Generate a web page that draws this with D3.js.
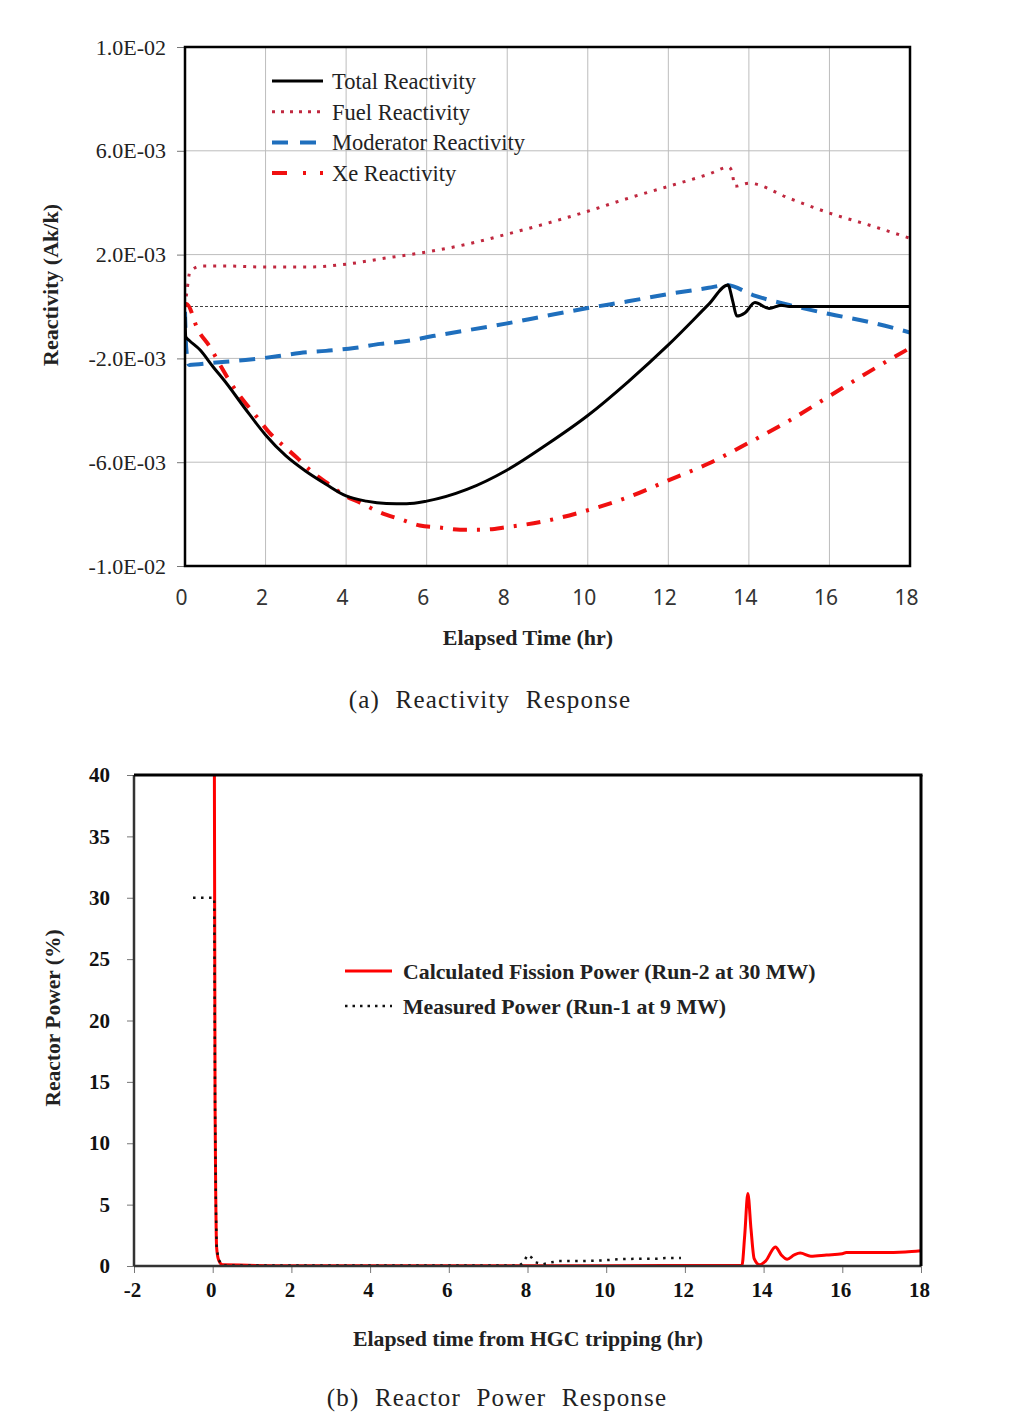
<!DOCTYPE html>
<html>
<head>
<meta charset="utf-8">
<script src="https://cdn.jsdelivr.net/npm/d3@7"></script>
<style>
  html, body { margin: 0; padding: 0; background: #fff; }
  svg { display: block; }
</style>
</head>
<body>
<svg id="chart" width="1013" height="1420"></svg>
<script>
// ---------- (a) Reactivity response data ----------
const reactXTicks = [0, 2, 4, 6, 8, 10, 12, 14, 16, 18];
const reactYTicks = [-0.01, -0.006, -0.002, 0.002, 0.006, 0.01];
const reactYTickLabels = ["-1.0E-02", "-6.0E-03", "-2.0E-03", "2.0E-03", "6.0E-03", "1.0E-02"];

const totalT = [0, 0.02, 0.1, 0.37, 0.7, 1, 1.5, 2, 2.5, 3, 3.5, 4, 4.5, 5, 5.5, 6, 7, 8, 9, 10, 11, 12, 13, 13.48, 13.6, 13.7, 13.9, 14.15, 14.5, 14.8, 15, 18];
const totalV = [-0.0004, -0.00117, -0.0013, -0.00167, -0.00233, -0.0029, -0.00395, -0.00495, -0.00575, -0.00635, -0.00685, -0.0073, -0.0075, -0.00759, -0.0076, -0.0075, -0.00705, -0.0063, -0.0053, -0.0042, -0.0029, -0.00148, 0.00008, 0.00083, 0.0002, -0.00037, -0.00025, 0.00015, -0.00008, 0.00005, 0, 0];

const fuelT = [0, 0.05, 0.12, 0.4, 1, 2, 3, 4, 5, 6, 7, 8, 9, 10, 11, 12, 13, 13.5, 13.58, 13.65, 14, 15, 16, 17, 18];
const fuelV = [0, 0.0006, 0.00133, 0.00156, 0.00156, 0.00152, 0.00152, 0.00163, 0.00187, 0.0021, 0.0024, 0.00279, 0.00321, 0.00367, 0.00417, 0.00463, 0.0051, 0.00537, 0.0052, 0.00463, 0.00475, 0.00417, 0.0036, 0.00313, 0.00263];

const modT = [0, 0.03, 0.1, 0.7, 1.5, 2.2, 2.85, 3.5, 4.2, 4.85, 5.5, 6.2, 6.75, 7.5, 8, 9, 10, 11, 12, 13, 13.45, 14.1, 15, 16, 17, 18];
const modV = [-0.0002, -0.0016, -0.00225, -0.00217, -0.00206, -0.00194, -0.00179, -0.00171, -0.0016, -0.00144, -0.00133, -0.00113, -0.00098, -0.00079, -0.00065, -0.00035, -0.00006, 0.0002, 0.00048, 0.00072, 0.00083, 0.00044, 0.00006, -0.00029, -0.0006, -0.001];

const xeT = [0, 0.04, 0.32, 0.62, 0.87, 1.2, 1.44, 1.78, 2.1, 2.36, 2.78, 3.15, 3.52, 4.02, 4.35, 4.85, 5.35, 5.83, 6.33, 6.83, 7.4, 8, 9, 10, 11, 12, 13, 14, 15, 16, 17, 18];
const xeV = [0, 0.0001, -0.0009, -0.00156, -0.00225, -0.0031, -0.0036, -0.00425, -0.00487, -0.00525, -0.00583, -0.00637, -0.00679, -0.00733, -0.00756, -0.00794, -0.0082, -0.00844, -0.00852, -0.0086, -0.0086, -0.0085, -0.00825, -0.00785, -0.00735, -0.0067, -0.00605, -0.00525, -0.0044, -0.00345, -0.0025, -0.0016];

const reactSeriesNames = ["Total Reactivity", "Fuel Reactivity", "Moderator Reactivity", "Xe Reactivity"];

// ---------- (b) Reactor power response data ----------
const powXTicks = [-2, 0, 2, 4, 6, 8, 10, 12, 14, 16, 18];
const powYTicks = [0, 5, 10, 15, 20, 25, 30, 35, 40];

const calcT = [0.04, 0.06, 0.08, 0.1, 0.15, 0.25, 2, 6, 10, 13.45, 13.52, 13.6, 13.68, 13.76, 13.9, 14.05, 14.3, 14.45, 14.6, 14.78, 14.93, 15.2, 15.6, 16, 16.1, 17, 17.6, 18];
const calcP = [45, 13, 5, 1.5, 0.5, 0.1, 0.03, 0.03, 0.03, 0.05, 2.5, 5.9, 3.0, 0.6, 0.1, 0.4, 1.55, 0.9, 0.55, 0.9, 1.05, 0.8, 0.9, 1.0, 1.1, 1.1, 1.15, 1.25];

const measT = [-0.5, 0.04, 0.06, 0.08, 0.1, 0.15, 0.25, 7.8, 7.9, 8.0, 8.1, 8.2, 8.4, 8.6, 8.8, 9.3, 9.9, 10.3, 10.9, 11.3, 11.5, 11.9];
const measP = [30, 30, 13, 5, 1.5, 0.5, 0.05, 0.05, 0.3, 0.9, 0.7, 0.3, 0.15, 0.3, 0.4, 0.4, 0.45, 0.55, 0.6, 0.6, 0.65, 0.65];

const powSeriesNames = ["Calculated Fission Power (Run-2 at 30 MW)", "Measured Power (Run-1 at 9 MW)"];

// ---------- drawing ----------
const svg = d3.select("#chart");
const serif = "'Liberation Serif', 'Times New Roman', serif";
const sans = "'Noto Sans', 'Open Sans', sans-serif";
const zip = (ts, vs) => ts.map((t, i) => [t, vs[i]]);
const plain = d => String(d);

// ===== Chart (a) =====
{
  const L = 185, R = 910, T = 47, B = 566;
  const x = d3.scaleLinear().domain([0, 18]).range([L, R]);
  const y = d3.scaleLinear().domain([-0.01, 0.01]).range([B, T]);
  const g = svg.append("g");

  svg.append("defs").append("clipPath").attr("id", "clipA")
    .append("rect").attr("x", L).attr("y", T).attr("width", R - L).attr("height", B - T);

  // gridlines
  g.append("g").selectAll("line").data(reactXTicks.filter(d => d > 0 && d < 18)).join("line")
    .attr("x1", d => x(d)).attr("x2", d => x(d)).attr("y1", T).attr("y2", B)
    .attr("stroke", "#bdbdbd").attr("stroke-width", 1);
  g.append("g").selectAll("line").data(reactYTicks.filter(d => d > -0.01 && d < 0.01)).join("line")
    .attr("x1", L).attr("x2", R).attr("y1", d => y(d)).attr("y2", d => y(d))
    .attr("stroke", "#bdbdbd").attr("stroke-width", 1);
  g.append("line").attr("x1", L).attr("x2", R).attr("y1", y(0)).attr("y2", y(0))
    .attr("stroke", "#444").attr("stroke-width", 1).attr("stroke-dasharray", "3,2");

  // axes (ticks + labels)
  const yAxis = d3.axisLeft(y).tickValues(reactYTicks)
    .tickFormat((d, i) => reactYTickLabels[i]).tickSize(8).tickPadding(11);
  const ya = g.append("g").attr("transform", `translate(${L},0)`).call(yAxis);
  ya.select(".domain").remove();
  ya.selectAll(".tick line").attr("stroke", "#777");
  ya.selectAll("text").attr("font-family", serif).attr("font-size", 22).attr("fill", "#222");

  const xAxis = d3.axisBottom(x).tickValues(reactXTicks).tickFormat(plain).tickSize(0).tickPadding(24);
  const xa = g.append("g").attr("transform", `translate(0,${B})`).call(xAxis);
  xa.select(".domain").remove();
  xa.selectAll("text").attr("font-family", sans).attr("font-size", 21).attr("fill", "#333")
    .attr("dx", -4);

  // series
  const line = d3.line().x(d => x(d[0])).y(d => y(d[1])).curve(d3.curveMonotoneX);
  const styles = [
    { data: zip(totalT, totalV), color: "#000", w: 3, dash: null },
    { data: zip(fuelT, fuelV), color: "#c0283f", w: 3, dash: "3,7" },
    { data: zip(modT, modV), color: "#1f6fbd", w: 4, dash: "16,10" },
    { data: zip(xeT, xeV), color: "#f01010", w: 4, dash: "14,10,3,10" }
  ];
  const lg = g.append("g").attr("clip-path", "url(#clipA)");
  [2, 1, 3, 0].forEach(i => {
    const s = styles[i];
    lg.append("path").datum(s.data).attr("d", line).attr("fill", "none")
      .attr("stroke", s.color).attr("stroke-width", s.w)
      .attr("stroke-dasharray", s.dash).attr("stroke-linejoin", "round");
  });

  // frame
  g.append("rect").attr("x", L).attr("y", T).attr("width", R - L).attr("height", B - T)
    .attr("fill", "none").attr("stroke", "#000").attr("stroke-width", 2.5);

  // legend
  const legDash = [null, "3,6", "16,12", "15,16,3,14,3,10"];
  const leg = g.append("g");
  reactSeriesNames.forEach((name, i) => {
    const yy = 81 + i * 30.7;
    const s = styles[i];
    leg.append("line").attr("x1", 272).attr("x2", 323).attr("y1", yy).attr("y2", yy)
      .attr("stroke", s.color).attr("stroke-width", s.w)
      .attr("stroke-dasharray", legDash[i]);
    leg.append("text").attr("x", 332).attr("y", yy).attr("dy", "0.35em")
      .attr("font-family", serif).attr("font-size", 22.5).attr("fill", "#222").text(name);
  });

  // axis titles
  g.append("text").attr("x", 528).attr("y", 637).attr("dy", "0.35em").attr("text-anchor", "middle")
    .attr("font-family", serif).attr("font-weight", "bold").attr("font-size", 22).attr("fill", "#222")
    .text("Elapsed Time (hr)");
  g.append("text").attr("transform", "translate(50,285) rotate(-90)").attr("dy", "0.35em")
    .attr("text-anchor", "middle")
    .attr("font-family", serif).attr("font-weight", "bold").attr("font-size", 22).attr("fill", "#222")
    .text("Reactivity (Ak/k)");

  // caption
  g.append("text").attr("x", 490).attr("y", 699).attr("dy", "0.35em").attr("text-anchor", "middle")
    .attr("font-family", serif).attr("font-size", 25).attr("fill", "#222")
    .attr("letter-spacing", "1.2").attr("word-spacing", "8")
    .text("(a) Reactivity Response");
}

// ===== Chart (b) =====
{
  const L = 134, R = 921, T = 775, B = 1266;
  const x = d3.scaleLinear().domain([-2, 18]).range([L, R]);
  const y = d3.scaleLinear().domain([0, 40]).range([B, T]);
  const g = svg.append("g");

  svg.select("defs").append("clipPath").attr("id", "clipB")
    .append("rect").attr("x", L).attr("y", T).attr("width", R - L).attr("height", B - T);

  const yAxis = d3.axisLeft(y).tickValues(powYTicks).tickFormat(plain).tickSize(7).tickPadding(17);
  const ya = g.append("g").attr("transform", `translate(${L},0)`).call(yAxis);
  ya.select(".domain").remove();
  ya.selectAll(".tick line").attr("stroke", "#777");
  ya.selectAll("text").attr("font-family", serif).attr("font-weight", "bold").attr("font-size", 21).attr("fill", "#111");

  const xAxis = d3.axisBottom(x).tickValues(powXTicks).tickFormat(plain).tickSize(7).tickPadding(9);
  const xa = g.append("g").attr("transform", `translate(0,${B})`).call(xAxis);
  xa.select(".domain").remove();
  xa.selectAll(".tick line").attr("stroke", "#777");
  xa.selectAll("text").attr("font-family", serif).attr("font-weight", "bold").attr("font-size", 21).attr("fill", "#111")
    .attr("dx", -2);

  const line = d3.line().x(d => x(d[0])).y(d => y(d[1]));
  const lg = g.append("g").attr("clip-path", "url(#clipB)");
  lg.append("path").datum(zip(calcT, calcP)).attr("d", line.curve(d3.curveMonotoneX)).attr("fill", "none")
    .attr("stroke", "#ff0000").attr("stroke-width", 3).attr("stroke-linejoin", "round");
  lg.append("path").datum(zip(measT, measP)).attr("d", line.curve(d3.curveLinear)).attr("fill", "none")
    .attr("stroke", "#111").attr("stroke-width", 2.5).attr("stroke-dasharray", "2.5,5.5");

  // frame: left & bottom dark gray, top & right black
  g.append("line").attr("x1", L).attr("x2", L).attr("y1", T).attr("y2", B).attr("stroke", "#333").attr("stroke-width", 2.5);
  g.append("line").attr("x1", L).attr("x2", R).attr("y1", B).attr("y2", B).attr("stroke", "#333").attr("stroke-width", 2.5);
  g.append("line").attr("x1", L).attr("x2", R + 1.5).attr("y1", T).attr("y2", T).attr("stroke", "#000").attr("stroke-width", 3);
  g.append("line").attr("x1", R).attr("x2", R).attr("y1", T).attr("y2", B).attr("stroke", "#000").attr("stroke-width", 3);

  // legend
  const leg = g.append("g");
  powSeriesNames.forEach((name, i) => {
    const yy = 971 + i * 35;
    leg.append("line").attr("x1", 345).attr("x2", 392).attr("y1", yy).attr("y2", yy)
      .attr("stroke", i === 0 ? "#ff0000" : "#111").attr("stroke-width", i === 0 ? 3 : 2.5)
      .attr("stroke-dasharray", i === 0 ? null : "2.5,5");
    leg.append("text").attr("x", 403).attr("y", yy).attr("dy", "0.35em")
      .attr("font-family", serif).attr("font-weight", "bold").attr("font-size", 21.8).attr("fill", "#222").text(name);
  });

  g.append("text").attr("x", 528).attr("y", 1338).attr("dy", "0.35em").attr("text-anchor", "middle")
    .attr("font-family", serif).attr("font-weight", "bold").attr("font-size", 21.8).attr("fill", "#222")
    .text("Elapsed time from HGC tripping (hr)");
  g.append("text").attr("transform", "translate(52,1018) rotate(-90)").attr("dy", "0.35em")
    .attr("text-anchor", "middle")
    .attr("font-family", serif).attr("font-weight", "bold").attr("font-size", 21.5).attr("fill", "#222")
    .text("Reactor Power (%)");

  g.append("text").attr("x", 497).attr("y", 1397).attr("dy", "0.35em").attr("text-anchor", "middle")
    .attr("font-family", serif).attr("font-size", 25).attr("fill", "#222")
    .attr("letter-spacing", "1.2").attr("word-spacing", "8")
    .text("(b) Reactor Power Response");
}
</script>
</body>
</html>
